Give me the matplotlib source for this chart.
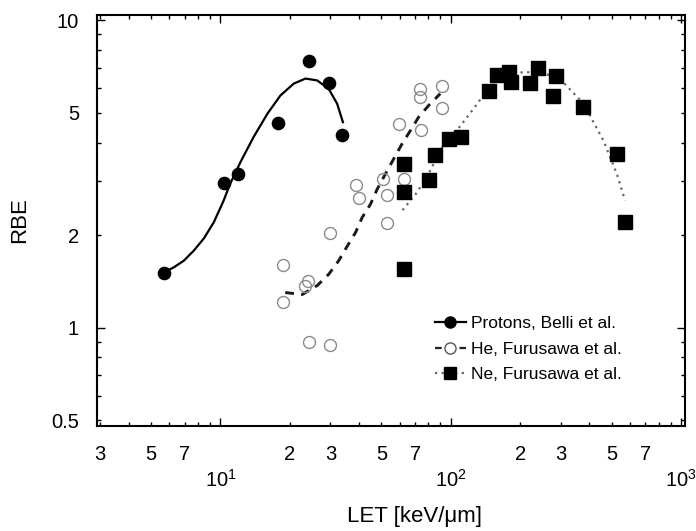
import matplotlib
matplotlib.use('Agg')
import matplotlib.pyplot as plt
from matplotlib.lines import Line2D

plt.rcParams['font.family'] = ['Liberation Sans', 'DejaVu Sans']
plt.rcParams['mathtext.default'] = 'regular'

# measured points, LET [keV/um] and RBE
proton_let = [5.7, 10.4, 11.9, 17.7, 24.3, 29.6, 33.8]
proton_rbe = [1.51, 2.95, 3.15, 4.62, 7.36, 6.27, 4.23]

he_let = [18.7, 18.7, 23.9, 23.2, 24.3, 30.0, 30.0, 38.9, 39.8, 52.8, 52.8,
          50.8, 62.4, 59.4, 74.5, 73.8, 73.8, 91.6, 91.6]
he_rbe = [1.60, 1.21, 1.42, 1.36, 0.90, 0.875, 2.03, 2.90, 2.64, 2.19, 2.69,
          3.05, 3.05, 4.60, 4.41, 5.98, 5.62, 6.09, 5.19]

ne_let = [62.4, 62.4, 62.4, 80.1, 85.7, 97.8, 111, 147, 159, 179, 183, 220,
          240, 287, 277, 374, 529, 571]
ne_rbe = [3.41, 2.77, 1.55, 3.01, 3.63, 4.11, 4.16, 5.87, 6.65, 6.78, 6.29,
          6.24, 7.01, 6.57, 5.66, 5.22, 3.66, 2.20]

# fitted curves
proton_fit_let = [5.68, 6.27, 6.93, 7.66, 8.47, 9.35, 10.3, 11.0, 12.2, 13.9,
                  16.0, 18.2, 20.8, 23.4, 26.3, 29.5, 32.1, 34.0]
proton_fit_rbe = [1.51, 1.57, 1.65, 1.78, 1.95, 2.20, 2.58, 2.93, 3.45, 4.16,
                  4.97, 5.69, 6.22, 6.46, 6.37, 5.98, 5.35, 4.66]

he_fit_let = [19.1, 22.6, 26.3, 29.5, 32.6, 35.2, 38.6, 41.2, 44.8, 47.9,
              52.0, 56.5, 61.4, 66.7, 72.5, 80.1, 90.0]
he_fit_rbe = [1.30, 1.28, 1.37, 1.49, 1.65, 1.82, 2.04, 2.28, 2.52, 2.82,
              3.16, 3.54, 3.96, 4.37, 4.84, 5.28, 5.77]

ne_fit_let = [61.7, 71.3, 80.1, 91.6, 106, 122, 144, 169, 207, 253, 308,
              377, 460, 526, 571]
ne_fit_rbe = [2.41, 2.75, 3.17, 3.85, 4.37, 5.01, 5.92, 6.62, 6.78, 6.75,
              6.28, 5.35, 4.06, 3.16, 2.59]

legend_labels = ['Protons, Belli et al.', 'He, Furusawa et al.', 'Ne, Furusawa et al.']

x_major_ticks = [10, 100, 1000]
x_major_labels = [r'$10^1$', r'$10^2$', r'$10^3$']
x_minor_ticks = [3, 4, 5, 6, 7, 8, 9, 20, 30, 40, 50, 60, 70, 80, 90,
                 200, 300, 400, 500, 600, 700, 800, 900]
x_minor_labels = ['3', '', '5', '', '7', '', '',
                  '2', '3', '', '5', '', '7', '', '',
                  '2', '3', '', '5', '', '7', '', '']
y_major_ticks = [1, 10]
y_major_labels = ['1', '10']
y_minor_ticks = [0.5, 0.6, 0.7, 0.8, 0.9, 2, 3, 4, 5, 6, 7, 8, 9]
y_minor_labels = ['0.5', '', '', '', '', '2', '', '', '5', '', '', '', '']

fig = plt.figure(figsize=(6.96, 5.31), dpi=100)
ax = fig.add_axes([0.1394, 0.1977, 0.845, 0.774])

ax.plot(proton_fit_let, proton_fit_rbe, '-', color='black', lw=1.6, zorder=2)
ax.plot(he_fit_let, he_fit_rbe, color='#1a1a1a', lw=2.1, dashes=(3, 2.5), zorder=2)
ax.plot(ne_fit_let, ne_fit_rbe, color='#666666', lw=1.6, dashes=(1, 2), zorder=2)

ax.plot(proton_let, proton_rbe, 'o', color='black', ms=8.8, zorder=3)
ax.plot(he_let, he_rbe, 'o', mfc='none', mec='#8a8a8a', mew=1.0, ms=8.6, zorder=3)
ax.plot(ne_let, ne_rbe, 's', color='black', ms=9.4, zorder=3)

ax.set_xscale('log')
ax.set_yscale('log')
ax.set_xlim(2.91, 1041)
ax.set_ylim(0.478, 10.4)

ax.set_xticks(x_major_ticks)
ax.set_xticklabels(x_major_labels)
ax.set_xticks(x_minor_ticks, minor=True)
ax.set_xticklabels(x_minor_labels, minor=True)
ax.set_yticks(y_major_ticks)
ax.set_yticklabels(y_major_labels)
ax.set_yticks(y_minor_ticks, minor=True)
ax.set_yticklabels(y_minor_labels, minor=True)

ax.tick_params(which='both', direction='in', top=True, right=True,
               labelsize=14.5, width=1.0)
ax.tick_params(which='major', length=5.5)
ax.tick_params(which='minor', length=3)
ax.tick_params(axis='x', which='major', pad=31)
ax.tick_params(axis='x', which='minor', pad=14)
ax.tick_params(axis='y', which='both', pad=13)

for s in ax.spines.values():
    s.set_linewidth(1.5)

ax.set_xlabel('LET [keV/\u03bcm]', fontsize=16)
ax.set_ylabel('RBE', fontsize=16)
ax.xaxis.set_label_coords(0.539, -0.195)
ax.yaxis.set_label_coords(-0.114, 0.5)

handles = [
    Line2D([], [], color='black', lw=1.6, marker='o', ms=8),
    Line2D([], [], color='#222222', lw=1.6, dashes=(3, 2.5), marker='o',
           mfc='white', mec='#555555', ms=8),
    Line2D([], [], color='#666666', lw=1.6, dashes=(1, 2), marker='s',
           mfc='black', mec='black', ms=8),
]
ax.legend(handles, legend_labels, loc='upper left', bbox_to_anchor=(0.575, 0.268),
          frameon=False, fontsize=12.5, handlelength=1.75, handletextpad=0.3,
          labelspacing=0.6, borderpad=0, borderaxespad=0)

fig.savefig('out.png', dpi=100)
